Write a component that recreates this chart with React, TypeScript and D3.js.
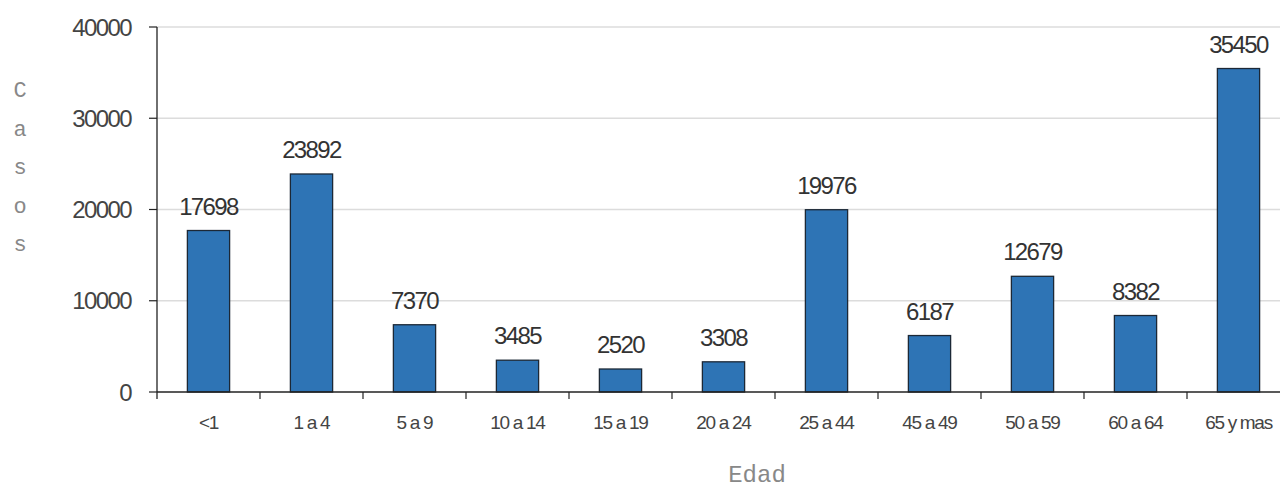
import React from "react";
import * as d3 from "d3";

const categories = ["<1", "1 a 4", "5 a 9", "10 a 14", "15 a 19", "20 a 24", "25 a 44", "45 a 49", "50 a 59", "60 a 64", "65 y mas"];
const casos = [17698, 23892, 7370, 3485, 2520, 3308, 19976, 6187, 12679, 8382, 35450];
const yTicks = [0, 10000, 20000, 30000, 40000];
const yLabel = "Casos";
const xLabel = "Edad";

const W = 1280;
const H = 487;
const left = 157;
const bandStep = 103;
const x0 = 392;
const yTop = 27;

export default function App() {
  const x = d3
    .scaleBand<string>()
    .domain(categories)
    .range([left, left + bandStep * categories.length])
    .paddingInner(0.59)
    .paddingOuter(0.295);
  const y = d3.scaleLinear().domain([0, 40000]).range([x0, yTop]);
  const sans = "'Liberation Sans', Arial, sans-serif";
  const mono = "'Liberation Mono', 'Courier New', monospace";
  return (
    <svg width={W} height={H} style={{ position: "absolute", left: 0, top: 0, background: "#fff" }}>
      {yTicks.map((t) => (
        <g key={t}>
          {t > 0 && <line x1={left} x2={W} y1={y(t)} y2={y(t)} stroke="#dcdcdc" strokeWidth={1.5} />}
          <line x1={149} x2={left} y1={y(t)} y2={y(t)} stroke="#222" strokeWidth={1.2} />
          <text x={131} y={y(t) + 8.5} textAnchor="end" fontFamily={sans} fontSize={24} letterSpacing={-1.6} fill="#444">
            {t}
          </text>
        </g>
      ))}
      {categories.map((c, i) => (
        <rect
          key={c}
          x={x(c)}
          y={y(casos[i])}
          width={x.bandwidth()}
          height={x0 - y(casos[i])}
          fill="#2e74b5"
          stroke="#1c2836"
          strokeWidth={1.3}
        />
      ))}
      <line x1={left} x2={left} y1={yTop} y2={399} stroke="#222" strokeWidth={1.3} />
      <line x1={left} x2={W} y1={x0} y2={x0} stroke="#222" strokeWidth={1.3} />
      {categories.map((c, i) => (
        <line key={"t" + c} x1={left + bandStep * (i + 1)} x2={left + bandStep * (i + 1)} y1={x0} y2={399} stroke="#222" strokeWidth={1.2} />
      ))}
      {categories.map((c, i) => (
        <text
          key={"l" + c}
          x={(x(c) as number) + x.bandwidth() / 2}
          y={429}
          textAnchor="middle"
          fontFamily={sans}
          fontSize={19}
          letterSpacing={-1.3}
          fill="#444"
        >
          {c}
        </text>
      ))}
      {categories.map((c, i) => (
        <text
          key={"v" + c}
          x={(x(c) as number) + x.bandwidth() / 2}
          y={y(casos[i]) - 16}
          textAnchor="middle"
          fontFamily={sans}
          fontSize={24}
          letterSpacing={-1.6}
          fill="#333"
        >
          {casos[i]}
        </text>
      ))}
      {yLabel.split("").map((ch, i) => (
        <text key={"y" + i} x={20} y={97 + i * 38.5} textAnchor="middle" fontFamily={mono} fontSize={22} fill="#888">
          {ch}
        </text>
      ))}
      <text x={757} y={482} textAnchor="middle" fontFamily={mono} fontSize={24} fill="#888">
        {xLabel}
      </text>
    </svg>
  );
}
